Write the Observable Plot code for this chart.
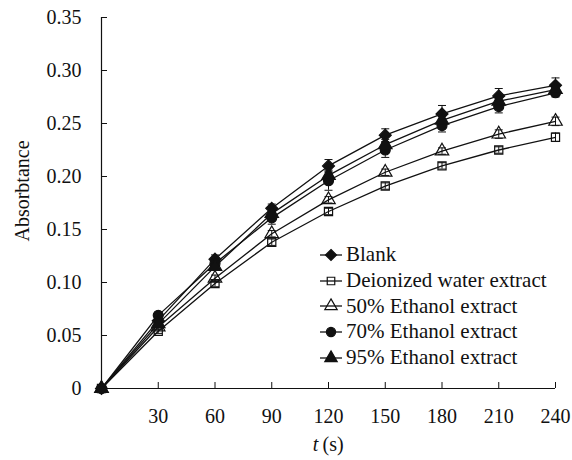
<!DOCTYPE html>
<html>
<head>
<meta charset="utf-8">
<script src="https://cdn.jsdelivr.net/npm/d3@7"></script>
<script src="https://cdn.jsdelivr.net/npm/@observablehq/plot@0.6"></script>
<style>
  body { margin: 0; background: #fff; }
  #wrap { position: relative; width: 572px; height: 460px; font-family: "Liberation Serif", "Times New Roman", "DejaVu Serif", serif; }
  #legend { position: absolute; left: 319px; top: 242px; }
  .row { display: flex; align-items: center; height: 25.7px; font-size: 21px; color: #111; white-space: nowrap; }
  .row svg { margin-right: 3px; }
</style>
</head>
<body>
<div id="wrap"><div id="legend"></div></div>
<script>
const times = [0, 30, 60, 90, 120, 150, 180, 210, 240];
const seriesNames = ["Blank", "Deionized water extract", "50% Ethanol extract", "70% Ethanol extract", "95% Ethanol extract"];
const blank = [0, 0.064, 0.122, 0.170, 0.210, 0.239, 0.259, 0.276, 0.286];
const water = [0, 0.054, 0.099, 0.138, 0.167, 0.191, 0.210, 0.225, 0.237];
const eth50 = [0, 0.058, 0.104, 0.146, 0.178, 0.204, 0.224, 0.240, 0.252];
const eth70 = [0, 0.069, 0.118, 0.161, 0.196, 0.225, 0.248, 0.266, 0.279];
const eth95 = [0, 0.061, 0.115, 0.165, 0.201, 0.230, 0.253, 0.271, 0.282];
const blankErr = [0, 0.003, 0.004, 0.004, 0.006, 0.006, 0.008, 0.007, 0.007];
const waterErr = [0, 0.002, 0.003, 0.003, 0.003, 0.003, 0.003, 0.003, 0.004];
const eth50Err = [0, 0.002, 0.003, 0.003, 0.003, 0.003, 0.003, 0.004, 0.004];
const eth70Err = [0, 0.003, 0.004, 0.006, 0.009, 0.007, 0.006, 0.006, 0.004];
const eth95Err = [0, 0.003, 0.003, 0.004, 0.005, 0.005, 0.005, 0.005, 0.004];
const yTicks = [0, 0.05, 0.10, 0.15, 0.20, 0.25, 0.30, 0.35];
const xTicks = [30, 60, 90, 120, 150, 180, 210, 240];

const values = [blank, water, eth50, eth70, eth95];
const errors = [blankErr, waterErr, eth50Err, eth70Err, eth95Err];
const styles = [
  {symbol: "diamond2", fill: "#111", r: 5.4},
  {symbol: "square", fill: "none", r: 4.6},
  {symbol: "triangle", fill: "none", r: 5},
  {symbol: "circle", fill: "#111", r: 5},
  {symbol: "triangle", fill: "#111", r: 5}
];
const d3Symbols = {diamond2: d3.symbolDiamond2, square: d3.symbolSquare, triangle: d3.symbolTriangle, circle: d3.symbolCircle};

const data = [];
seriesNames.forEach((s, i) => times.forEach((t, j) => data.push({series: s, idx: i, t, v: values[i][j], e: errors[i][j]})));

const cap = {draw(ctx, size) { const w = Math.sqrt(size / Math.PI); ctx.moveTo(-w, 0); ctx.lineTo(w, 0); }};
const withErr = data.filter(d => d.e > 0);

const marks = [
  Plot.ruleY([0], {stroke: "#111", strokeWidth: 1.2}),
  Plot.ruleX([0], {stroke: "#111", strokeWidth: 1.2}),
  Plot.axisY({ticks: yTicks, tickSize: -6, tickPadding: 26, tickFormat: d => d === 0 ? "0" : d.toFixed(2), fontSize: 20, label: null, stroke: "#111"}),
  Plot.axisX({ticks: xTicks, tickSize: -6, tickPadding: 26, fontSize: 20, label: null, stroke: "#111"}),
  Plot.ruleX(withErr, {x: "t", y1: d => d.v - d.e, y2: d => d.v + d.e, stroke: "#111", strokeWidth: 1}),
  Plot.dot(withErr, {x: "t", y: d => d.v + d.e, symbol: cap, r: 4, stroke: "#111", strokeWidth: 1}),
  Plot.dot(withErr, {x: "t", y: d => d.v - d.e, symbol: cap, r: 4, stroke: "#111", strokeWidth: 1}),
  Plot.line(data, {x: "t", y: "v", z: "series", stroke: "#111", strokeWidth: 1.3})
];
styles.forEach((st, i) => {
  marks.push(Plot.dot(data.filter(d => d.idx === i), {x: "t", y: "v", symbol: st.symbol, r: st.r, fill: st.fill, stroke: "#111", strokeWidth: 1.2}));
});
marks.push(Plot.text(["Absorbtance"], {frameAnchor: "left", textAnchor: "middle", rotate: -90, dx: -79, dy: -12, fontSize: 20, fill: "#111"}));
marks.push(Plot.text(["t"], {frameAnchor: "bottom", dx: -13, dy: 62, fontSize: 20, fontStyle: "italic", fill: "#111"}));
marks.push(Plot.text(["(s)"], {frameAnchor: "bottom", dx: -6, dy: 62, textAnchor: "start", fontSize: 20, fill: "#111"}));

const chart = Plot.plot({
  width: 572,
  height: 460,
  marginLeft: 101,
  marginRight: 17,
  marginTop: 17,
  marginBottom: 72,
  x: {domain: [0, 240]},
  y: {domain: [0, 0.35]},
  style: {fontFamily: "'Liberation Serif', 'Times New Roman', 'DejaVu Serif', serif", color: "#111", background: "#fff"},
  marks
});
const wrap = document.getElementById("wrap");
wrap.insertBefore(chart, wrap.firstChild);

const legend = document.getElementById("legend");
styles.forEach((st, i) => {
  const row = document.createElement("div");
  row.className = "row";
  const area = Math.PI * st.r * st.r * 0.85;
  const path = d3.symbol(d3Symbols[st.symbol], area)();
  row.innerHTML = `<svg width="24" height="20"><line x1="1" x2="23" y1="10" y2="10" stroke="#111" stroke-width="1.3"/><path transform="translate(12,10)" d="${path}" fill="${st.fill}" stroke="#111" stroke-width="1.2"/></svg><span>${seriesNames[i]}</span>`;
  legend.appendChild(row);
});
</script>
</body>
</html>
